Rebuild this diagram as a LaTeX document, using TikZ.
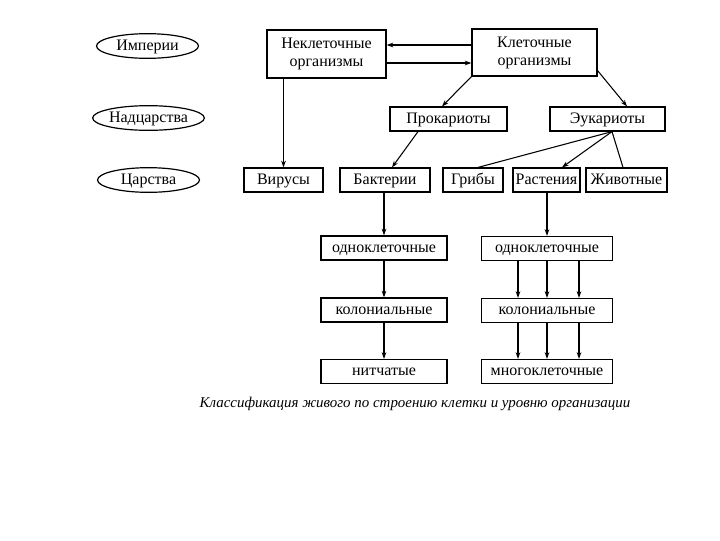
\documentclass[tikz,border=0pt]{standalone}
\usepackage{fontspec}
\setmainfont{Liberation Serif}
\usetikzlibrary{arrows.meta,shapes.geometric,calc}

\begin{document}
\begin{tikzpicture}[x=0.75pt,y=0.75pt,yscale=-1,xscale=1,
		frame/.style={draw,line width=0.9pt,inner sep=0pt,font=\fontsize{12}{13.5}\selectfont},
		box/.style={frame,minimum height=18pt,text height=8.2pt,text depth=2.2pt},
		oval/.style={draw,ellipse,line width=0.9pt,inner sep=0pt,minimum width=76.5pt,minimum height=18.5pt,text height=8.2pt,text depth=2.2pt,font=\fontsize{12}{13}\selectfont},
		arr/.style={line width=0.8pt,-{Stealth[length=5pt,width=3.5pt]}},
		lin/.style={line width=0.8pt}]
		\useasboundingbox (0,0) rectangle (720,540);
		% levels
		\node [oval] (imp) at (147.5,46) {Империи};
		\node [oval] (nad) at (148.5,118) {Надцарства};
		\node [oval] (tsar) at (148.5,180) {Царства};
		% empires
		\node [frame,align=center,minimum width=89.25pt,minimum height=36pt] (nonc) at (326.5,54) {Неклеточные\\организмы};
		\node [frame,align=center,minimum width=93.75pt,minimum height=35.25pt] (cell) at (534.5,52.5) {Клеточные\\организмы};
		% superkingdoms
		\node [box,minimum width=87.75pt] (prok) at (448.5,119) {Прокариоты};
		\node [box,minimum width=86.25pt] (euk) at (607.5,119) {Эукариоты};
		% kingdoms
		\node [box,minimum width=59.25pt] (vir) at (283.5,180) {Вирусы};
		\node [box,minimum width=67.5pt] (bact) at (385,180) {Бактерии};
		\node [box,minimum width=45pt] (grib) at (473,180) {Грибы};
		\node [box,minimum width=50.25pt] (rast) at (546.5,180) {Растения};
		\node [box,minimum width=60.75pt] (zhiv) at (626.5,180) {Животные};
		% levels of organisation
		\node [box,minimum width=94.5pt] (uni1) at (384,248) {одноклеточные};
		\node [box,minimum width=94.5pt] (col1) at (384,310) {колониальные};
		\node [box,minimum width=94.5pt] (fil) at (384,371.5) {нитчатые};
		\node [box,minimum width=98.25pt] (uni2) at (547,248.5) {одноклеточные};
		\node [box,minimum width=98.25pt] (col2) at (547,310.5) {колониальные};
		\node [box,minimum width=98.25pt] (multi) at (547,371.5) {многоклеточные};
		% caption
		\node [font=\fontsize{11.2}{13}\selectfont\itshape] (cap) at (415,404) {Классификация живого по строению клетки и уровню организации};
		% connectors
		\draw [arr] ($(cell.west)+(0,-7.5)$) -- ($(nonc.east)+(0,-9)$);
		\draw [arr] ($(nonc.east)+(0,9)$) -- ($(cell.west)+(0,10.5)$);
		\draw [arr] (nonc.south -| vir.north) -- (vir.north);
		\draw [arr] (cell.south west) -- ($(prok.north)+(-6.5,0)$);
		\draw [arr] ($(cell.south east)+(0,-6)$) -- ($(euk.north)+(19.5,0)$);
		\draw [arr] ($(prok.south)+(-30.5,0)$) -- ($(bact.north)+(7,0)$);
		\coordinate (eb) at ($(euk.south)+(4.5,0)$);
		\draw [lin] (eb) -- ($(grib.north)+(5,0)$);
		\draw [arr] (eb) -- ($(rast.north)+(15.5,0)$);
		\draw [lin] (eb) -- ($(zhiv.north)+(-3.5,0)$);
		\draw [arr] (uni1.north |- bact.south) -- (uni1.north);
		\draw [arr] (uni1) -- (col1);
		\draw [arr] (col1) -- (fil);
		\draw [arr] (rast.south -| uni2.north) -- (uni2.north);
		\foreach \dx in {-29,0,32} {
			\draw [arr] ($(uni2.south)+(\dx,0)$) -- ($(col2.north)+(\dx,0)$);
			\draw [arr] ($(col2.south)+(\dx,0)$) -- ($(multi.north)+(\dx,0)$);
		}
\end{tikzpicture}
\end{document}
